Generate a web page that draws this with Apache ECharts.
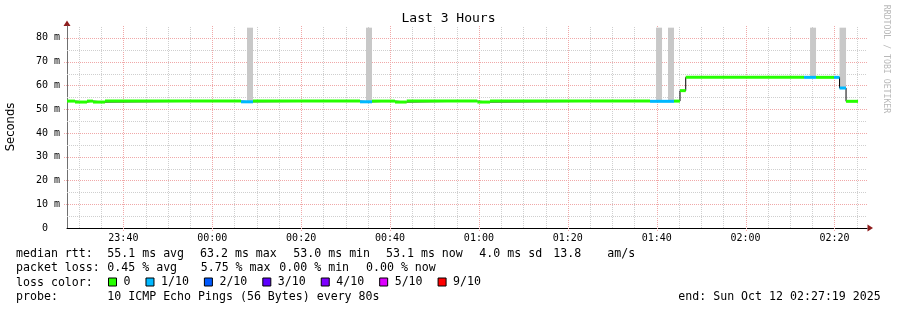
<!DOCTYPE html>
<html>
<head>
<meta charset="utf-8">
<script src="https://cdn.jsdelivr.net/npm/echarts@6/dist/echarts.min.js"></script>
<style>
html,body{margin:0;padding:0;background:#fff;}
#c{width:897px;height:310px;}
</style>
</head>
<body>
<div id="c"></div>
<script>
// ---- DATA (times are minutes after 23:00 on Oct 11; >60 means after midnight) ----
const axisStart = 27.3167;   // 23:27:19
const axisEnd = 207.3167;    // 02:27:19
const xTickTimes = [40, 60, 80, 100, 120, 140, 160, 180, 200];
const xTickLabels = ['23:40', '00:00', '00:20', '00:40', '01:00', '01:20', '01:40', '02:00', '02:20'];
const yTickValues = [0, 10, 20, 30, 40, 50, 60, 70, 80];
const yTickLabels = ['0  ', '10 m', '20 m', '30 m', '40 m', '50 m', '60 m', '70 m', '80 m'];

// median RTT segments (boundaries, ms value, loss level index)
const segTimes = [27.32, 29.12, 31.82, 33.17, 35.87, 66.47, 69.17, 93.24, 95.94, 101.12, 103.75,
                  119.64, 122.49, 158.50, 163.89, 165.24, 166.53, 193.15, 195.85, 199.90, 201.14, 202.60, 205.30];
const medianMs = [53.4, 53.0, 53.4, 53.0, 53.4, 53.1, 53.4, 53.1, 53.4, 53.0, 53.4,
                  53.0, 53.4, 53.3, 53.4, 57.8, 63.4, 63.4, 63.4, 63.4, 58.9, 53.3];
const lossIdx  = [0, 0, 0, 0, 0, 1, 0, 1, 0, 0, 0,
                  0, 0, 1, 0, 0, 0, 1, 0, 1, 1, 0];

// smoke (spread of individual pings)
const smokeStart = [67.82, 94.59, 159.85, 162.54, 194.50, 201.14];
const smokeEnd   = [69.17, 95.94, 161.20, 163.89, 195.85, 202.60];
const smokeLow   = [53.1, 53.1, 53.3, 53.3, 63.4, 58.9];
const smokeHigh  = [84.3, 84.3, 84.3, 84.3, 84.3, 84.3];

const lossLabels = ['0', '1/10', '2/10', '3/10', '4/10', '5/10', '9/10'];
const lossColors = ['#26ff00', '#00b8ff', '#0059ff', '#5e00ff', '#7e00ff', '#dd00ff', '#ff0000'];

const rttLine = [['median rtt:', 16], ['55.1 ms avg', 107.3], ['63.2 ms max', 200], ['53.0 ms min', 293.3],
                 ['53.1 ms now', 386], ['4.0 ms sd', 479.3], ['13.8', 553.3], ['am/s', 607.3]];
const lossLine = [['packet loss:', 16], ['0.45 % avg', 107.3], ['5.75 % max', 200.7], ['0.00 % min', 279.3], ['0.00 % now', 366]];
const probeLine = [['probe:', 16], ['10 ICMP Echo Pings (56 Bytes) every 80s', 107.3], ['end: Sun Oct 12 02:27:19 2025', 678.3]];

// ---- CHART ----
const MONO = '"DejaVu Sans Mono", monospace';
const RED = '#f0a8a8';
const GREY = '#cfcfcf';
const Y_MAX = 85;

const chart = echarts.init(document.getElementById('c'), null, {renderer: 'canvas'});

// grid positions: vertical every 5 minutes, horizontal every 5 ms; majors at labelled ticks
const vGrid = [];
for (let t = 30; t < axisEnd; t += 5) vGrid.push([t, xTickTimes.indexOf(t) >= 0 ? 1 : 0, 0]);
const hGrid = [];
for (let v = 5; v < Y_MAX; v += 5) hGrid.push([v, yTickValues.indexOf(v) >= 0 ? 1 : 0, 1]);
const gridLines = vGrid.concat(hGrid);

const medianPts = [];
for (let i = 0; i < medianMs.length; i++) {
  medianPts.push([segTimes[i], medianMs[i]]);
  medianPts.push([segTimes[i + 1], medianMs[i]]);
}

const lossSeries = lossLabels.map((lab, k) => {
  const d = [];
  for (let i = 0; i < medianMs.length; i++) {
    if (lossIdx[i] === k) d.push([segTimes[i], segTimes[i + 1], medianMs[i]]);
  }
  return {
    type: 'custom', name: lab, silent: true, z: 4,
    itemStyle: {color: lossColors[k]},
    data: d,
    encode: {x: [0, 1], y: 2},
    renderItem: (params, api) => {
      const a = api.coord([api.value(0), api.value(2)]);
      const b = api.coord([api.value(1), api.value(2)]);
      return {type: 'rect', shape: {x: a[0], y: a[1] - 1.5, width: b[0] - a[0], height: 3},
              style: {fill: lossColors[k]}};
    }
  };
});

function textItems(list, y) {
  return list.map(([t, x]) => ({
    type: 'text', x: x, y: y, silent: true,
    style: {text: t, font: '11.6px ' + MONO, fill: '#000', align: 'left', verticalAlign: 'middle'}
  }));
}

const option = {
  animation: false,
  backgroundColor: '#ffffff',
  title: {
    text: 'Last 3 Hours', left: 'center', top: 12, padding: 0,
    textStyle: {fontFamily: MONO, fontSize: 13, fontWeight: 'normal', color: '#000'}
  },
  legend: {
    data: lossLabels, left: 108, top: 276, padding: 0, itemWidth: 8, itemHeight: 8, itemGap: 15,
    icon: 'rect', selectedMode: false,
    itemStyle: {borderColor: '#000', borderWidth: 1},
    textStyle: {fontFamily: MONO, fontSize: 11.6, color: '#000', padding: [0, 0, 0, 2]}
  },
  grid: {left: 67, right: 30, top: 26, bottom: 82, containLabel: false},
  xAxis: {
    type: 'value', min: axisStart, max: axisEnd, splitNumber: 9,
    axisLine: {show: true, lineStyle: {color: '#000', width: 1}},
    axisTick: {show: false},
    splitLine: {show: false},
    axisLabel: {
      showMinLabel: false, showMaxLabel: false,
      fontFamily: MONO, fontSize: 10, color: '#000', margin: 5,
      formatter: v => {
        for (let i = 0; i < xTickTimes.length; i++) if (Math.abs(xTickTimes[i] - v) < 1e-6) return xTickLabels[i];
        return '';
      }
    }
  },
  yAxis: {
    type: 'value', min: 0, max: Y_MAX, interval: 5,
    axisLine: {show: true, lineStyle: {color: '#707070', width: 1}},
    axisTick: {show: false},
    splitLine: {show: false},
    axisLabel: {
      fontFamily: MONO, fontSize: 10, color: '#000', margin: 7,
      formatter: v => {
        for (let i = 0; i < yTickValues.length; i++) if (Math.abs(yTickValues[i] - v) < 1e-6) return yTickLabels[i];
        return '';
      }
    }
  },
  series: [
    {
      type: 'custom', name: 'grid', silent: true, z: 1,
      data: gridLines, encode: {x: 0},
      renderItem: (params, api) => {
        const val = api.value(0), major = api.value(1), horiz = api.value(2);
        let shape;
        if (horiz) {
          const p0 = api.coord([axisStart, val]);
          const p1 = api.coord([axisEnd, val]);
          const y = Math.round(p0[1]) + 0.5;
          shape = {x1: p0[0] - (major ? 3 : 0), y1: y, x2: p1[0], y2: y};
        } else {
          const p0 = api.coord([val, 0]);
          const p1 = api.coord([val, Y_MAX]);
          const x = Math.round(p0[0]) + 0.5;
          shape = {x1: x, y1: p0[1] + (major ? 3 : 0), x2: x, y2: p1[1]};
        }
        return {type: 'line', shape: shape,
                style: {stroke: major ? RED : GREY, lineWidth: 1, lineDash: [1, 1]}};
      }
    },
    {
      type: 'custom', name: 'smoke', silent: true, z: 2,
      data: smokeStart.map((s, i) => [s, smokeEnd[i], smokeLow[i], smokeHigh[i]]),
      encode: {x: [0, 1], y: [2, 3]},
      renderItem: (params, api) => {
        const a = api.coord([api.value(0), api.value(3)]);
        const b = api.coord([api.value(1), api.value(2)]);
        return {type: 'rect', shape: {x: a[0], y: a[1], width: b[0] - a[0], height: b[1] - a[1]},
                style: {fill: '#c8c8c8'}};
      }
    },
    {
      type: 'line', name: 'median', silent: true, z: 3,
      data: medianPts, symbol: 'none',
      lineStyle: {color: '#000', width: 1}
    }
  ].concat(lossSeries),
  graphic: [
    {type: 'text', x: 11, y: 127, rotation: Math.PI / 2, silent: true,
     style: {text: 'Seconds', font: '11.6px "DejaVu Sans"', fill: '#000', align: 'center', verticalAlign: 'middle'}},
    {type: 'text', x: 886, y: 59, rotation: -Math.PI / 2, silent: true,
     style: {text: 'RRDTOOL / TOBI OETIKER', font: '8.2px ' + MONO, fill: '#b8b8b8', align: 'center', verticalAlign: 'middle'}},
    {type: 'polygon', silent: true, shape: {points: [[873, 228], [867.5, 224.5], [867.5, 231.5]]}, style: {fill: '#8e1c1c'}},
    {type: 'polygon', silent: true, shape: {points: [[67, 20.5], [63.5, 26], [70.5, 26]]}, style: {fill: '#8e1c1c'}},
    {type: 'text', x: 16, y: 282.5, silent: true,
     style: {text: 'loss color:', font: '11.6px ' + MONO, fill: '#000', align: 'left', verticalAlign: 'middle'}}
  ].concat(textItems(rttLine, 254), textItems(lossLine, 268), textItems(probeLine, 296.5))
};

chart.setOption(option);
</script>
</body>
</html>
